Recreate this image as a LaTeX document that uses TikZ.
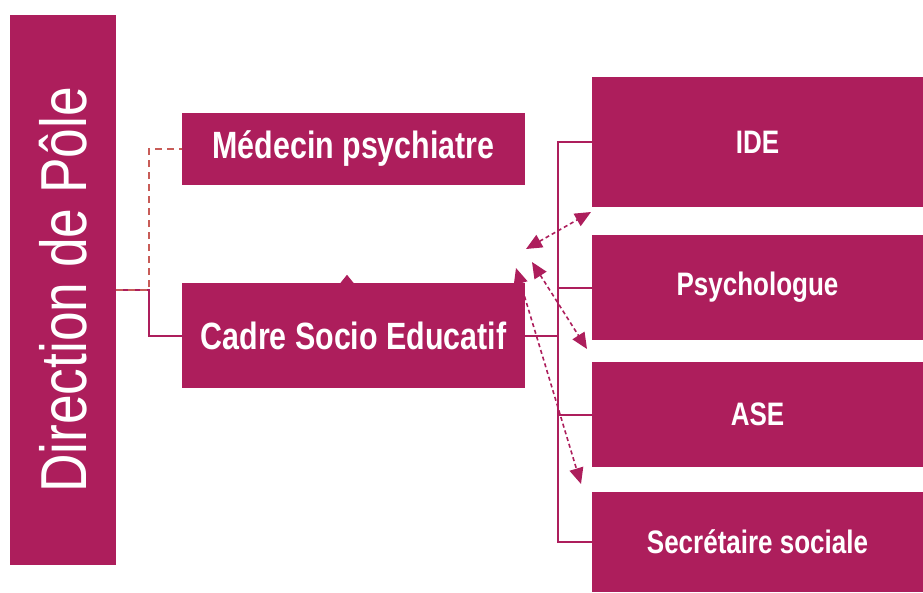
\documentclass[tikz,border=0pt]{standalone}
\usepackage{fontspec}
\setmainfont{Liberation Sans}
\newfontfamily\narrowfont{Liberation Sans}[FakeStretch=0.8]
\newfontfamily\widefont{Liberation Sans}[FakeStretch=0.82]
\usetikzlibrary{arrows.meta}
\definecolor{plum}{RGB}{173,30,92}
\definecolor{salmon}{RGB}{200,92,88}

\begin{document}
\begin{tikzpicture}[x=1pt,y=-1pt,
    box/.style={fill=plum, text=white, inner sep=0pt, font=\narrowfont\bfseries\fontsize{38}{44}\selectfont},
    staff/.style={box, minimum width=331, font=\narrowfont\bfseries\fontsize{32.5}{38}\selectfont},
    link/.style={draw=plum, line width=2pt},
    dotlink/.style={draw=salmon, line width=2pt, dash pattern=on 7pt off 5pt},
    dasharrow/.style={draw=plum, line width=1.6pt, dash pattern=on 4pt off 3pt,
        {Triangle[length=16pt,width=14pt]}-{Triangle[length=16pt,width=14pt]}}]

    \useasboundingbox (0,0) rectangle (923,592);

    \node[box, minimum width=106, minimum height=550, font=\widefont\fontsize{65}{70}\selectfont] (dir) at (63,290) {\rotatebox{90}{Direction de Pôle}};
    \node[box, minimum width=343, minimum height=72] (med) at (353.5,149) {Médecin psychiatre};
    \node[box, minimum width=343, minimum height=105] (cadre) at (353.5,335.5) {Cadre Socio Educatif};

    \node[staff, minimum height=130] (ide) at (757.5,142) {IDE};
    \node[staff, minimum height=105] (psy) at (757.5,287.5) {Psychologue};
    \node[staff, minimum height=105] (ase) at (757.5,414.5) {ASE};
    \node[staff, minimum height=100] (sec) at (757.5,542) {Secrétaire sociale};

    \draw[link] (dir.east) -- ++(33,0) |- (cadre.west);
    \draw[dotlink] (dir.east) -- ++(33,0) |- (med.west);

    \draw[link] (cadre.east) -- ++(33,0) coordinate (bus);
    \foreach \n in {ide,psy,ase,sec}
        \draw[link] (bus) |- (\n.west);

    \coordinate (a1) at (526,249);
    \coordinate (b1) at (591,212);
    \coordinate (a2) at (532,262);
    \coordinate (b2) at (587,349);
    \coordinate (a3) at (516,268);
    \coordinate (b3) at (581,484);
    \foreach \i in {1,2,3}
        \draw[dasharrow] (a\i) -- (b\i);

    \fill[plum] ([xshift=-13]cadre.north) -- ([xshift=-6.5,yshift=8]cadre.north) -- (cadre.north) -- cycle;
\end{tikzpicture}
\end{document}
